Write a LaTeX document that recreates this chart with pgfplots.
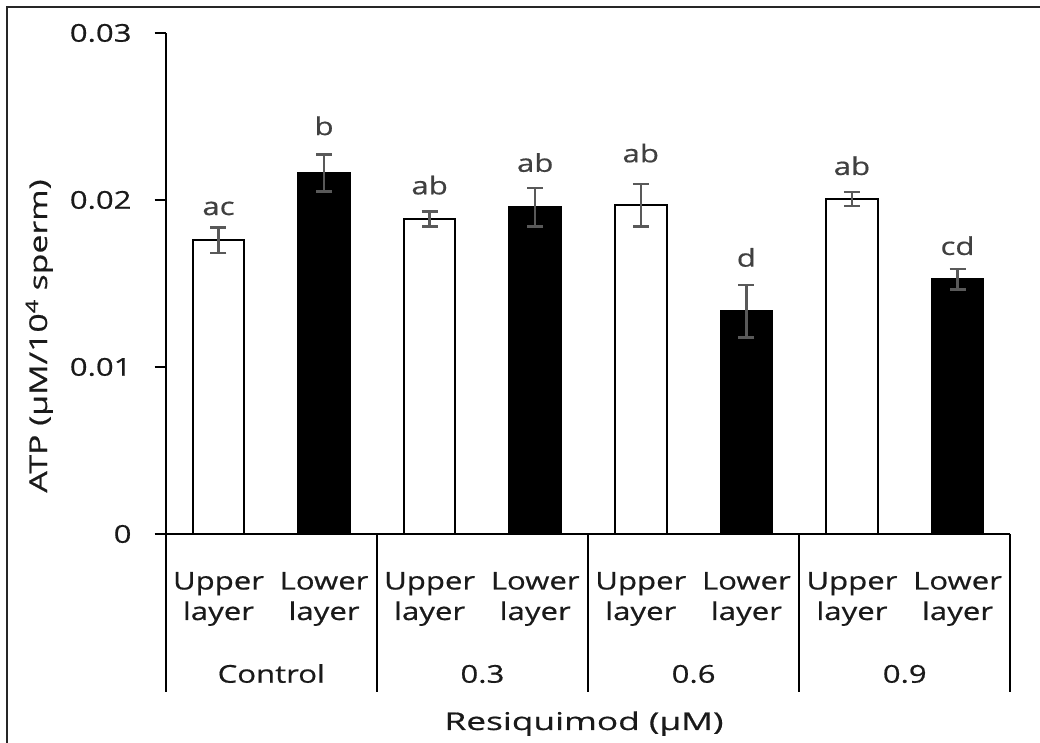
\documentclass[border=0pt]{standalone}
\usepackage{pgfplots}
\pgfplotsset{compat=1.18}
\usepackage{fontspec}
\setmainfont{Open Sans}[FakeStretch=1.27, FakeBold=0.6]
\newfontfamily\wideA{Open Sans}[FakeStretch=1.44, FakeBold=0.6]
\newfontfamily\wideB{Open Sans}[FakeStretch=1.38, FakeBold=0.6]
\definecolor{txt}{HTML}{1A1A1A}
\definecolor{lett}{HTML}{404040}
\definecolor{errc}{HTML}{595959}
\newcommand\f{\fontsize{24.5bp}{30bp}\selectfont}

\begin{document}
\begin{tikzpicture}[font=\f, x=1bp, y=1bp]
\useasboundingbox (0,0) rectangle (1040,743);
\draw[line width=2.5bp, color=black!85] (7,0) -- (7,736) -- (1040,736);
\begin{axis}[
  at={(165.7bp,209bp)}, anchor=south west,
  width=844.6bp, height=501bp, scale only axis,
  xmin=-0.5, xmax=7.5, ymin=0, ymax=0.03,
  axis x line=bottom, axis y line=left,
  axis line style={-, line width=2bp, black},
  ytick={0,0.01,0.02,0.03}, yticklabels={0,0.01,0.02,0.03},
  scaled y ticks=false,
  ytick align=outside, major tick length=11bp,
  ytick style={line width=2bp, black},
  yticklabel style={font=\f, text=txt, anchor=east, inner sep=0pt, xshift=-23bp},
  xtick={0,...,7},
  xticklabels={Upper,Lower,Upper,Lower,Upper,Lower,Upper,Lower},
  xtick style={draw=none},
  xticklabel style={font=\f, text=txt, anchor=base, inner sep=0pt, yshift=-50bp},
  clip=false,
  bar width=51.5bp,
]
\addplot[ybar, bar shift=0pt, fill=white, draw=black, line width=2bp,
  error bars/.cd, y dir=both, y explicit,
  error bar style={line width=2.4bp, color=errc},
  error mark options={rotate=90, color=errc, line width=2.4bp, mark size=8bp}]
 coordinates {(0,0.01760) +- (0,0.00076) (2,0.01886) +- (0,0.00045)
              (4,0.01968) +- (0,0.00126) (6,0.02006) +- (0,0.00042)};
\addplot[ybar, bar shift=0pt, fill=black, draw=black, line width=2bp,
  error bars/.cd, y dir=both, y explicit,
  error bar style={line width=2.4bp, color=errc},
  error mark options={rotate=90, color=errc, line width=2.4bp, mark size=8bp}]
 coordinates {(1,0.02162) +- (0,0.00110) (3,0.01956) +- (0,0.00115)
              (5,0.01334) +- (0,0.00158) (7,0.01525) +- (0,0.00060)};
% significance letters
\node[text=lett, anchor=base] at (axis cs:0,0.01910) {ac};
\node[text=lett, anchor=base] at (axis cs:1,0.02389) {b};
\node[text=lett, anchor=base] at (axis cs:2,0.02034) {ab};
\node[text=lett, anchor=base] at (axis cs:3,0.02169) {ab};
\node[text=lett, anchor=base] at (axis cs:4,0.02226) {ab};
\node[text=lett, anchor=base] at (axis cs:5,0.01601) {d};
\node[text=lett, anchor=base] at (axis cs:6,0.02150) {ab};
\node[text=lett, anchor=base] at (axis cs:7,0.01671) {cd};
% second line of category labels
\pgfplotsinvokeforeach{0,...,7}{
  \node[text=txt, anchor=base, inner sep=0pt, yshift=-86bp] at (axis cs:#1,0) {layer};
}
% group separators
\pgfplotsinvokeforeach{-0.5,1.5,3.5,5.5,7.5}{
  \draw[line width=2bp, black] (axis cs:#1,0) -- ([yshift=-158bp]axis cs:#1,0);
}
% group labels
\node[text=txt, anchor=base, inner sep=0pt, yshift=-148.7bp] at (axis cs:0.5,0) {Control};
\node[text=txt, anchor=base, inner sep=0pt, yshift=-148.7bp] at (axis cs:2.5,0) {0.3};
\node[text=txt, anchor=base, inner sep=0pt, yshift=-148.7bp] at (axis cs:4.5,0) {0.6};
\node[text=txt, anchor=base, inner sep=0pt, yshift=-148.7bp] at (axis cs:6.5,0) {0.9};
\end{axis}
\node[text=txt, anchor=base, inner sep=0pt, font=\f\wideA] at (584,13) {Resiquimod (µM)};
\node[text=txt, rotate=90, anchor=base, inner sep=0pt, font=\f\wideB] at (47,407) {ATP (µM/10\textsuperscript{4} sperm)};
\end{tikzpicture}
\end{document}
